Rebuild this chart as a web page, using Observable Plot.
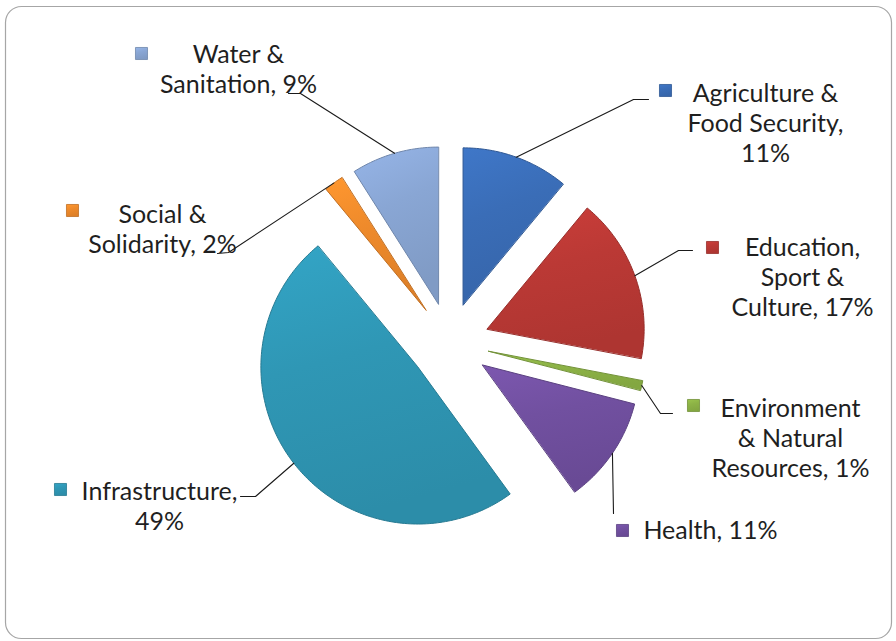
<!DOCTYPE html>
<html>
<head>
<meta charset="utf-8">
<script src="https://cdn.jsdelivr.net/npm/d3@7"></script>
<script src="https://cdn.jsdelivr.net/npm/@observablehq/plot@0.6"></script>
<style>
  html, body { margin: 0; padding: 0; background: #fff; }
  #chart { width: 896px; height: 641px; }
</style>
</head>
<body>
<div id="chart"></div>
<script>
// ---- data ----
const categories = ["Agriculture & Food Security", "Education, Sport & Culture", "Environment & Natural Resources", "Health", "Infrastructure", "Social & Solidarity", "Water & Sanitation"];
const values = [11, 17, 1, 11, 49, 2, 9];
const labelNames = ["Agriculture &\nFood Security", "Education,\nSport &\nCulture", "Environment\n& Natural\nResources", "Health", "Infrastructure", "Social &\nSolidarity", "Water &\nSanitation"];
const valueOnNewLine = [true, false, false, false, true, false, false];
const colors = ["#3a6db7", "#bb3935", "#8db346", "#7150a0", "#2f97b5", "#ee8a2b", "#89a6d4"];

// ---- layout (pixels) ----
const W = 896, H = 641, CX = 449, CY = 342, R = 157, EXPLODE = 40;
const labelLayout = [
  {text: [765, 122], key: [665, 90],  bend: [633, 99],  end: [648, 99]},
  {text: [802, 276], key: [712, 247], bend: [678, 250], end: [692, 250]},
  {text: [790, 437], key: [693, 405], bend: [660, 413], end: [672, 413]},
  {text: [710, 529], key: [622, 530], bend: [613, 513], end: [613, 513]},
  {text: [159, 505], key: [60, 489],  bend: [255, 496], end: [240, 496]},
  {text: [162, 228], key: [72, 210],  bend: [228, 252], end: [217, 253]},
  {text: [238, 68],  key: [141, 53],  bend: [300, 93],  end: [288, 93]}
];

const toU = ([px, py]) => [(px - CX) / R, (CY - py) / R];
const e = EXPLODE / R;
const arcs = d3.pie().sort(null).value(d => d)(values);

const slicePts = [];
const leaderPts = [];
arcs.forEach((a, i) => {
  const mid = (a.startAngle + a.endAngle) / 2;
  const ox = e * Math.sin(mid), oy = e * Math.cos(mid);
  slicePts.push({k: i, x: ox, y: oy});
  const n = Math.max(4, Math.ceil((a.endAngle - a.startAngle) / (Math.PI / 180)));
  for (let j = 0; j <= n; j++) {
    const t = a.startAngle + (a.endAngle - a.startAngle) * j / n;
    slicePts.push({k: i, x: ox + Math.sin(t), y: oy + Math.cos(t)});
  }
  const L = labelLayout[i];
  const b = toU(L.bend), en = toU(L.end);
  leaderPts.push({k: i, x: ox + Math.sin(mid), y: oy + Math.cos(mid)});
  leaderPts.push({k: i, x: b[0], y: b[1]});
  leaderPts.push({k: i, x: en[0], y: en[1]});
});

const labelRows = categories.map((c, i) => {
  const [x, y] = toU(labelLayout[i].text);
  return {x, y, text: labelNames[i] + (valueOnNewLine[i] ? ",\n" : ", ") + values[i] + "%"};
});
const keyRows = categories.map((c, i) => {
  const [x, y] = toU(labelLayout[i].key);
  return {k: i, x, y};
});

const grad = i => `url(#g${i})`;
const dark = i => d3.color(colors[i]).darker(0.6).formatHex();

const svg = Plot.plot({
  width: W, height: H,
  margin: 0,
  x: {domain: [-CX / R, (W - CX) / R], range: [0, W], axis: null},
  y: {domain: [-(H - CY) / R, CY / R], range: [H, 0], axis: null},
  color: {type: "identity"},
  marks: [
    Plot.frame({stroke: "#a6a6a6", strokeWidth: 1.2, rx: 16, insetLeft: 5, insetTop: 6, insetRight: 5, insetBottom: 3}),
    Plot.line(slicePts, {x: "x", y: "y", z: "k", curve: "linear-closed", fill: "#000", fillOpacity: 0.2, stroke: "none", dx: 2, dy: 3, ariaLabel: "shadow"}),
    Plot.line(slicePts, {x: "x", y: "y", z: "k", curve: "linear-closed", fill: d => grad(d.k), stroke: d => dark(d.k), strokeWidth: 1}),
    Plot.line(leaderPts, {x: "x", y: "y", z: "k", stroke: "#1a1a1a", strokeWidth: 1.1}),
    Plot.dot(keyRows, {x: "x", y: "y", symbol: "square", r: 6.8, fill: d => grad(d.k), stroke: d => dark(d.k), strokeWidth: 0.8}),
    Plot.text(labelRows, {x: "x", y: "y", text: "text", fontSize: 25, fontFamily: "Lato", fill: "#1f1f1f", lineHeight: 1.2, textAnchor: "middle"})
  ]
});

const s = d3.select(svg);
const defs = s.insert("defs", ":first-child");
colors.forEach((c, i) => {
  const g = defs.append("linearGradient").attr("id", `g${i}`).attr("x1", 0).attr("y1", 0).attr("x2", 0.25).attr("y2", 1);
  g.append("stop").attr("offset", "0%").attr("stop-color", d3.color(c).brighter(0.25).formatHex());
  g.append("stop").attr("offset", "45%").attr("stop-color", c);
  g.append("stop").attr("offset", "100%").attr("stop-color", d3.color(c).darker(0.2).formatHex());
});
const f = defs.append("filter").attr("id", "blur").attr("x", "-10%").attr("y", "-10%").attr("width", "120%").attr("height", "120%");
f.append("feGaussianBlur").attr("stdDeviation", 3);
s.select('g[aria-label="shadow"]').attr("filter", "url(#blur)");

document.getElementById("chart").appendChild(svg);
</script>
</body>
</html>
